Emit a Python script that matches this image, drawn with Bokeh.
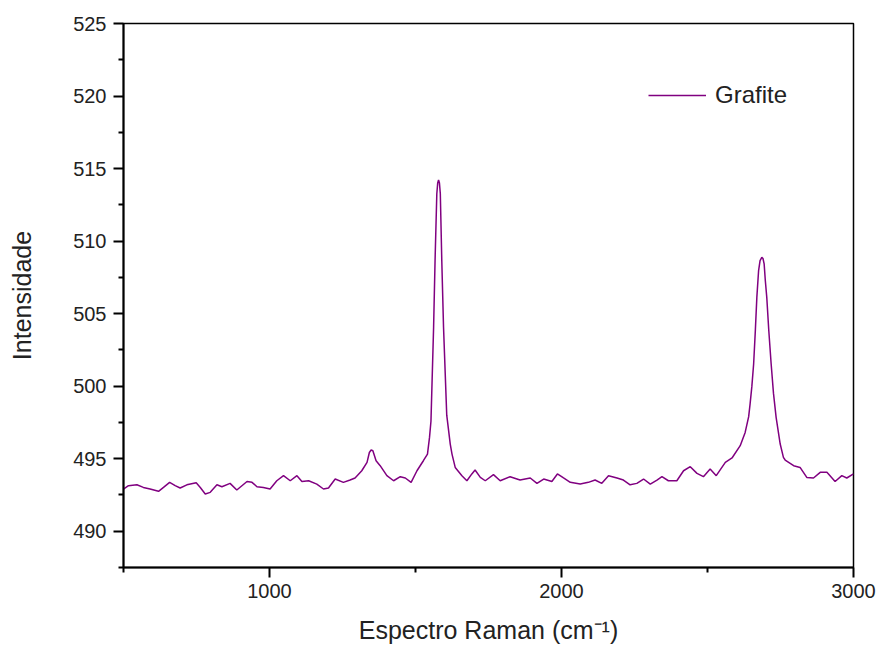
from bokeh.plotting import figure
from bokeh.models import FixedTicker, Range1d, Legend, LegendItem
from bokeh.embed import file_html
from bokeh.resources import INLINE

# ---- data ----
raman_shift = [500, 517, 546, 568, 591, 620, 637, 658, 677, 694, 717, 749, 763, 780, 797,
               820, 837, 865, 888, 923, 940, 957, 979, 1002, 1025, 1048, 1071, 1094, 1111,
               1134, 1162, 1185, 1202, 1225, 1253, 1276, 1293, 1316, 1334, 1342, 1348, 1354,
               1365, 1379, 1402, 1425, 1448, 1465, 1485, 1505, 1527, 1541, 1548, 1553, 1562,
               1567, 1573, 1576, 1579, 1582, 1585, 1590, 1596, 1607, 1619, 1625, 1636, 1659,
               1676, 1693, 1704, 1722, 1739, 1767, 1790, 1824, 1858, 1893, 1916, 1939, 1967,
               1986, 2007, 2030, 2064, 2092, 2115, 2138, 2161, 2190, 2212, 2235, 2258, 2281,
               2304, 2327, 2344, 2366, 2395, 2418, 2441, 2464, 2486, 2509, 2530, 2561, 2584,
               2612, 2629, 2641, 2646, 2652, 2658, 2664, 2669, 2675, 2680, 2686, 2690, 2694,
               2698, 2703, 2710, 2718, 2726, 2735, 2749, 2760, 2766, 2795, 2817, 2840, 2863,
               2886, 2909, 2937, 2960, 2977, 3000]
intensity = [492.91, 493.14, 493.20, 493.02, 492.91, 492.75, 493.02, 493.37, 493.14, 492.98,
             493.20, 493.34, 493.02, 492.57, 492.68, 493.20, 493.07, 493.30, 492.84, 493.43,
             493.37, 493.07, 493.02, 492.91, 493.48, 493.83, 493.48, 493.83, 493.43, 493.48,
             493.25, 492.91, 492.98, 493.60, 493.37, 493.53, 493.67, 494.17, 494.75, 495.43,
             495.60, 495.55, 494.86, 494.52, 493.83, 493.48, 493.76, 493.67, 493.37, 494.17,
             494.86, 495.32, 496.47, 497.60, 504.06, 508.66, 513.26, 514.00, 514.22, 514.00,
             513.26, 508.66, 504.06, 498.00, 496.01, 495.32, 494.40, 493.83, 493.48, 493.95,
             494.22, 493.71, 493.48, 493.90, 493.48, 493.76, 493.53, 493.67, 493.30, 493.60,
             493.43, 493.95, 493.67, 493.37, 493.25, 493.37, 493.53, 493.30, 493.83, 493.67,
             493.53, 493.20, 493.30, 493.60, 493.25, 493.53, 493.76, 493.48, 493.48, 494.17,
             494.45, 493.99, 493.76, 494.29, 493.83, 494.75, 495.05, 495.90, 496.81, 497.90,
             498.80, 500.00, 501.53, 503.90, 506.12, 507.97, 508.66, 508.88, 508.80, 508.43,
             507.28, 506.12, 503.80, 501.53, 499.50, 497.85, 496.01, 495.09, 494.91, 494.52,
             494.40, 493.71, 493.67, 494.06, 494.06, 493.43, 493.83, 493.67, 493.95]

series_name = "Grafite"
x_major_ticks = [1000, 2000, 3000]
x_minor_ticks = [500, 1500, 2500]
y_major_ticks = [490, 495, 500, 505, 510, 515, 520, 525]
y_minor_ticks = [487.5, 492.5, 497.5, 502.5, 507.5, 512.5, 517.5, 522.5]

FONT = "Liberation Sans"

p = figure(width=880, height=655, output_backend="svg", toolbar_location=None,
           x_range=Range1d(500, 3000), y_range=Range1d(487.5, 525),
           min_border_left=123, min_border_right=27, min_border_top=23, min_border_bottom=88)

p.xgrid.visible = False
p.ygrid.visible = False
p.outline_line_color = "black"
p.outline_line_width = 1.5
p.outline_line_alpha = 1.0
p.background_fill_color = "white"
p.border_fill_color = "white"

r = p.line(raman_shift, intensity, line_color="#800080", line_width=1.5)

for ax in (p.xaxis[0], p.yaxis[0]):
    ax.axis_line_width = 2
    ax.axis_line_color = "black"
    ax.major_tick_line_width = 2
    ax.minor_tick_line_width = 2
    ax.major_tick_in = 0
    ax.major_tick_out = 10
    ax.minor_tick_in = 0
    ax.minor_tick_out = 5
    ax.major_label_text_font = FONT
    ax.major_label_text_font_size = "20px"
    ax.major_label_text_color = "#222222"
    ax.axis_label_text_font = FONT
    ax.axis_label_text_font_size = "25px"
    ax.axis_label_text_font_style = "normal"
    ax.axis_label_text_color = "#222222"

p.xaxis[0].ticker = FixedTicker(ticks=x_major_ticks, minor_ticks=x_minor_ticks)
p.yaxis[0].ticker = FixedTicker(ticks=y_major_ticks, minor_ticks=y_minor_ticks)
p.xaxis[0].axis_label = "Espectro Raman (cm\u207b\u00b9)"
p.yaxis[0].axis_label = "Intensidade"
p.xaxis[0].major_label_standoff = 6
p.yaxis[0].major_label_standoff = 7
p.xaxis[0].axis_label_standoff = 15
p.yaxis[0].axis_label_standoff = 34

legend = Legend(items=[LegendItem(label=series_name, renderers=[r])],
                location=(525, 458), orientation="vertical")
legend.label_text_font = FONT
legend.label_text_font_size = "24px"
legend.label_text_color = "#222222"
legend.glyph_width = 58
legend.label_standoff = 9
legend.padding = 0
legend.margin = 0
legend.border_line_alpha = 0
legend.background_fill_alpha = 0
p.add_layout(legend)

open("out.html", "w").write(file_html(p, INLINE))
